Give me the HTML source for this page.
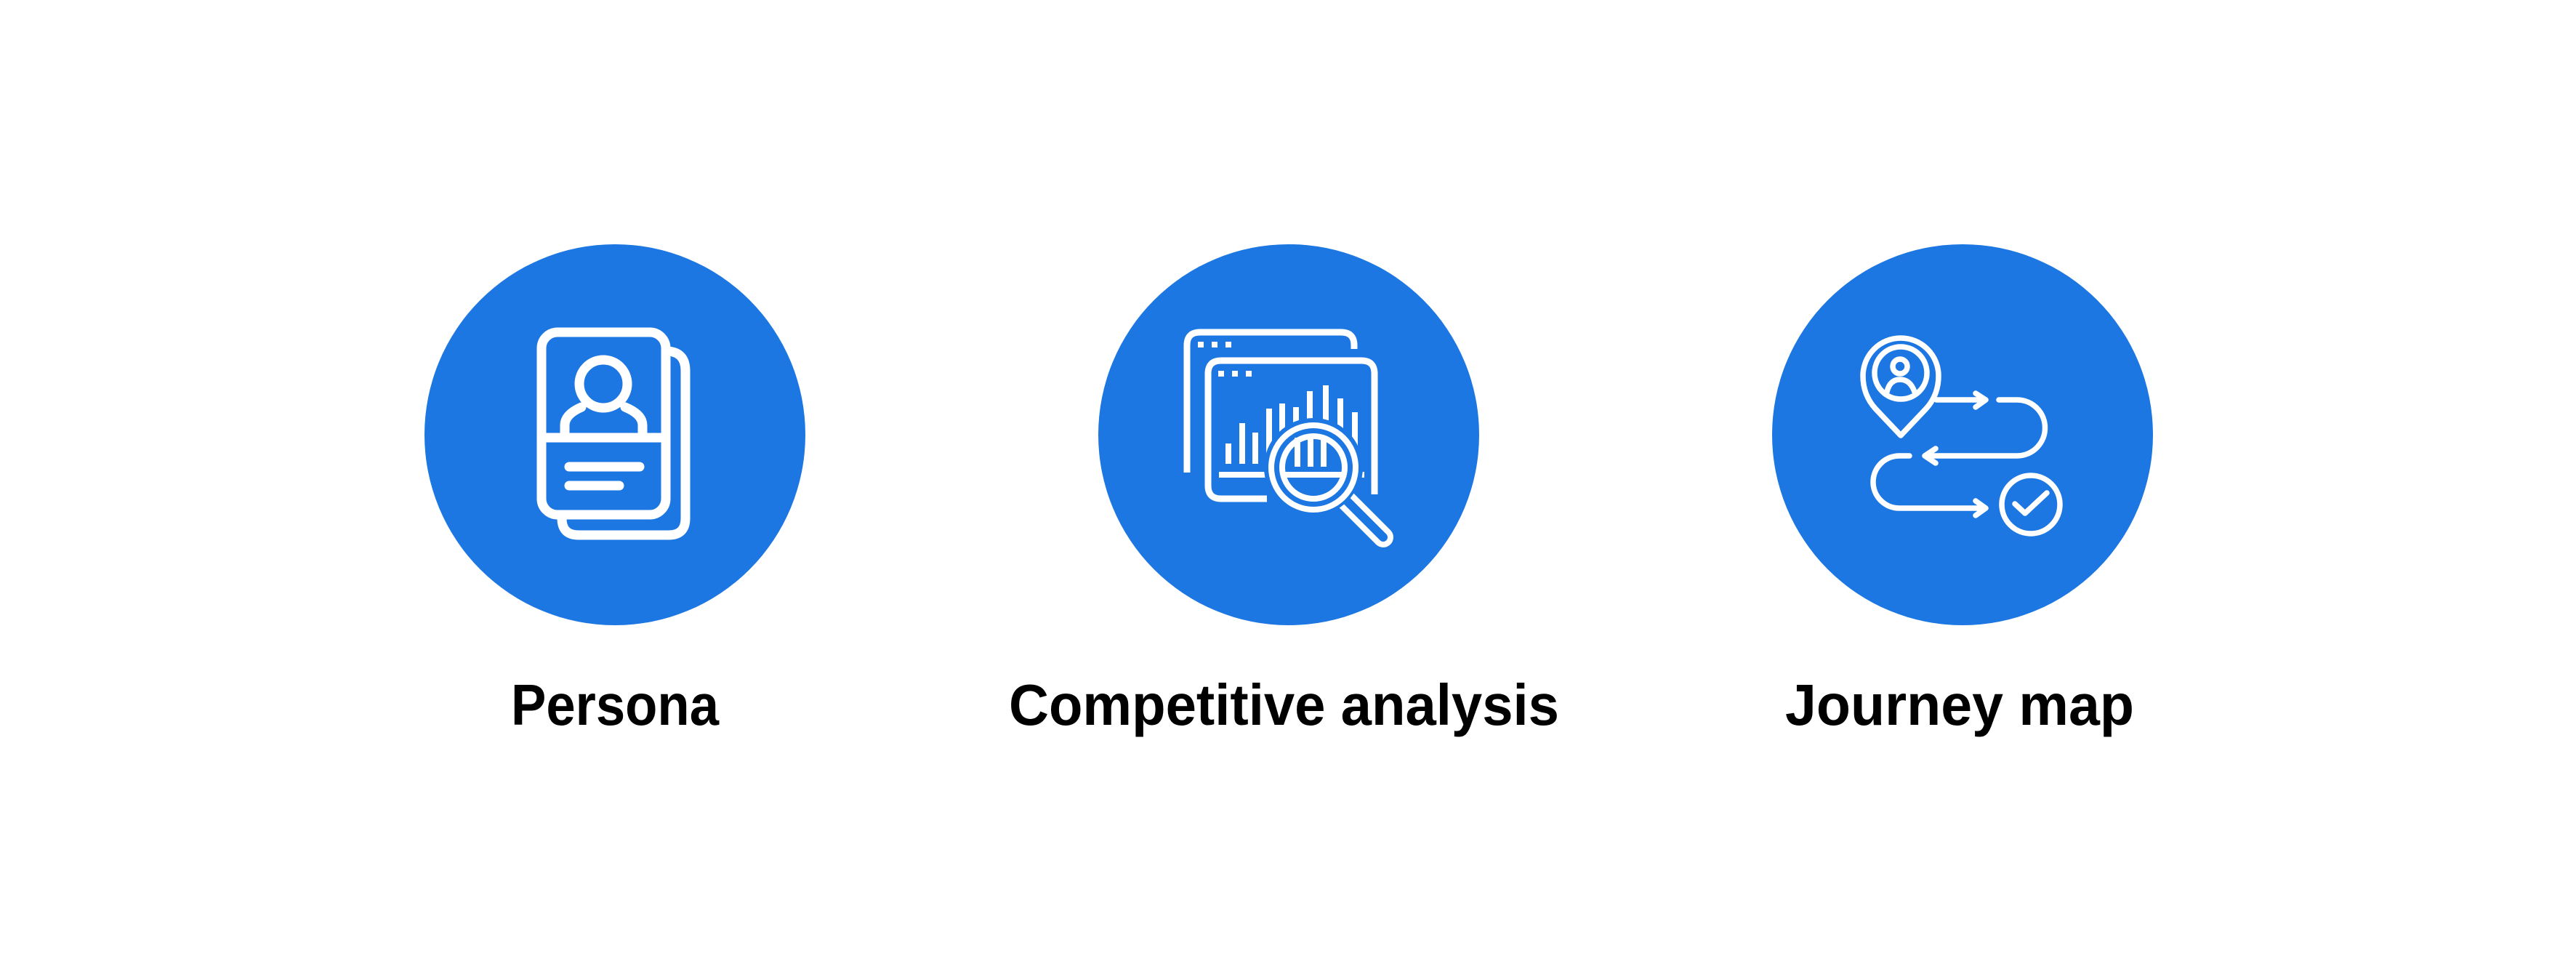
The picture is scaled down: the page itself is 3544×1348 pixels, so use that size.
<!DOCTYPE html>
<html><head><meta charset="utf-8"><style>
html,body{margin:0;padding:0;background:#fff;}
svg{display:block;}
text{font-family:"Liberation Sans",sans-serif;font-weight:bold;fill:#000;}
</style></head><body>
<svg width="3544" height="1348" viewBox="0 0 3544 1348" xmlns="http://www.w3.org/2000/svg">
<rect width="3544" height="1348" fill="#fff"/>
<circle cx="846" cy="598" r="262" fill="#1c77e3"/>
<circle cx="1773" cy="598" r="262" fill="#1c77e3"/>
<circle cx="2700" cy="598" r="262" fill="#1c77e3"/>

<!-- Persona icon -->
<g fill="none" stroke="#fff" stroke-width="13" stroke-linecap="round" stroke-linejoin="round">
<path d="M916 483 Q943 483 943 510 L943 713 Q943 736 920 736 L796 736 Q773 736 773 713"/>
<rect x="745" y="457" width="171" height="251" rx="22"/>
<line x1="745" y1="602" x2="916" y2="602" stroke-linecap="butt"/>
<circle cx="830" cy="528" r="33"/>
<path d="M777 596 L777 585 Q777 570 800 560 M860 560 Q884 570 884 585 L884 596"/>
<line x1="783" y1="642" x2="880" y2="642"/>
<line x1="783" y1="668" x2="852" y2="668"/>
</g>

<!-- Competitive analysis icon -->
<g fill="none" stroke="#fff" stroke-width="9">
<path d="M1633 650 L1633 475 Q1633 457 1651 457 L1845 457 Q1863 457 1863 475 L1863 480"/>
<path d="M1743 686 L1680 686 Q1662 686 1662 668 L1662 514 Q1662 496 1680 496 L1873 496 Q1891 496 1891 514 L1891 680"/>
</g>
<g fill="#fff">
<rect x="1648" y="470" width="8" height="8"/><rect x="1667" y="470" width="8" height="8"/><rect x="1686" y="470" width="8" height="8"/>
<rect x="1676" y="510" width="8" height="8"/><rect x="1695" y="510" width="8" height="8"/><rect x="1714" y="510" width="8" height="8"/>
<rect x="1686" y="610" width="8" height="28"/>
<rect x="1705" y="582" width="8" height="56"/>
<rect x="1723" y="595" width="8" height="43"/>
<rect x="1742" y="562" width="8" height="76"/>
<rect x="1760" y="555" width="8" height="83"/>
<rect x="1779" y="560" width="8" height="78"/>
<rect x="1798" y="538" width="8" height="100"/>
<rect x="1820" y="530" width="8" height="108"/>
<rect x="1840" y="548" width="8" height="90"/>
<rect x="1860" y="567" width="8" height="71"/>
<rect x="1677" y="649" width="200" height="8"/>
</g>
<circle cx="1807" cy="643" r="68" fill="#1c77e3"/>
<line x1="1852" y1="688" x2="1903" y2="739" stroke="#fff" stroke-width="28" stroke-linecap="round"/>
<line x1="1852" y1="688" x2="1903" y2="739" stroke="#1c77e3" stroke-width="12" stroke-linecap="round"/>
<circle cx="1807" cy="643" r="66" fill="#1c77e3"/>
<g fill="none" stroke="#fff" stroke-width="8">
<circle cx="1807" cy="643" r="58"/>
<circle cx="1807" cy="643" r="43"/>
<line x1="1766" y1="653" x2="1848" y2="653"/>
</g>
<g fill="#fff">
<rect x="1781" y="602" width="8" height="40"/><rect x="1799" y="602" width="8" height="40"/><rect x="1817" y="602" width="8" height="40"/>
</g>

<!-- Journey map icon -->
<g fill="none" stroke="#fff" stroke-width="7.5" stroke-linecap="round" stroke-linejoin="round">
<path d="M2615 599 L2580 562 Q2563 543 2563 517 A52 52 0 0 1 2667 517 Q2667 543 2650 562 Z"/>
<circle cx="2615" cy="513" r="36"/>
<circle cx="2614" cy="504" r="10"/>
<path d="M2596 539 Q2600 522 2614 522 Q2628 522 2634 539"/>
<path d="M2664 550 L2731 550 M2718 541 L2732 550 L2718 560"/>
<path d="M2750 550 L2775 550 A38 38 0 0 1 2775 627 L2650 627 M2663 617 L2648 627 L2663 637"/>
<path d="M2627 627 L2613 627 A36 36 0 0 0 2613 699 L2731 699 M2718 689 L2732 699 L2718 709"/>
<ellipse cx="2794" cy="694" rx="40" ry="40"/>
<path d="M2772 693 L2786 706 L2816 678"/>
</g>

<text x="703" y="997" font-size="80" textLength="286" lengthAdjust="spacingAndGlyphs">Persona</text>
<text x="1388" y="997" font-size="80" textLength="757" lengthAdjust="spacingAndGlyphs">Competitive analysis</text>
<text x="2456" y="997" font-size="80" textLength="480" lengthAdjust="spacingAndGlyphs">Journey map</text>
</svg>
</body></html>
